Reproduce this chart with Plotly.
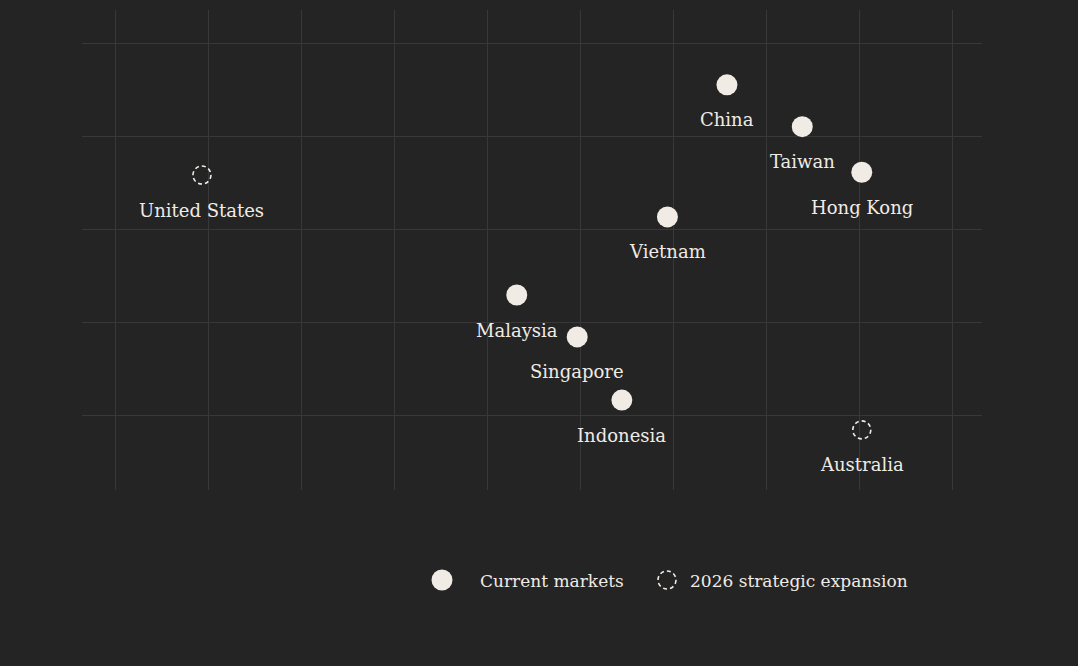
import plotly.graph_objects as go

# market positions (grid units)
current_names = ["China", "Taiwan", "Hong Kong", "Vietnam", "Malaysia", "Singapore", "Indonesia"]
current_x = [65.8, 73.9, 80.3, 59.4, 43.2, 49.7, 54.5]
current_y = [35.5, 31.0, 26.1, 21.3, 12.9, 8.4, 1.6]

expansion_names = ["United States", "Australia"]
expansion_x = [9.35, 80.3]
expansion_y = [25.8, -1.6]

legend_labels = ["Current markets", "2026 strategic expansion"]

bg = "#242424"
ink = "#f0ebe5"
grid = "#383838"
font_family = "Georgia, 'DejaVu Serif', serif"

fig = go.Figure()

fig.add_trace(go.Scatter(
    x=current_x, y=current_y, mode="markers", name=legend_labels[0],
    text=current_names, hoverinfo="text",
    marker=dict(size=21, color=ink, line=dict(width=0)),
))

# invisible points for the expansion markets, the dashed rings are shapes
fig.add_trace(go.Scatter(
    x=expansion_x, y=expansion_y, mode="markers", name=legend_labels[1],
    text=expansion_names, hoverinfo="text",
    marker=dict(size=20, color="rgba(0,0,0,0)"),
))

for xx, yy in zip(expansion_x, expansion_y):
    fig.add_shape(type="circle", xref="x", yref="y",
                  xsizemode="pixel", ysizemode="pixel",
                  xanchor=xx, yanchor=yy, x0=-9, x1=9, y0=-9, y1=9,
                  line=dict(color=ink, width=1.6, dash="4px,3px"))

# labels under every point
for nm, xx, yy in zip(current_names + expansion_names, current_x + expansion_x,
                      current_y + expansion_y):
    fig.add_annotation(x=xx, y=yy, text=nm, showarrow=False, yshift=-35,
                       font=dict(family=font_family, size=18, color=ink))

# custom legend
fig.add_shape(type="circle", xref="paper", yref="paper",
              xsizemode="pixel", ysizemode="pixel",
              xanchor=0.4, yanchor=-0.1875, x0=-10.5, x1=10.5, y0=-10.5, y1=10.5,
              fillcolor=ink, line=dict(width=0))
fig.add_shape(type="circle", xref="paper", yref="paper",
              xsizemode="pixel", ysizemode="pixel",
              xanchor=0.65, yanchor=-0.1875, x0=-9, x1=9, y0=-9, y1=9,
              line=dict(color=ink, width=1.6, dash="4px,3px"))
fig.add_annotation(xref="paper", yref="paper", x=0.44, y=-0.1896,
                   xanchor="left", yanchor="middle",
                   text=legend_labels[0], showarrow=False,
                   font=dict(family=font_family, size=17, color=ink))
fig.add_annotation(xref="paper", yref="paper", x=0.6733, y=-0.1896,
                   xanchor="left", yanchor="middle",
                   text=legend_labels[1], showarrow=False,
                   font=dict(family=font_family, size=17, color=ink))

fig.update_xaxes(range=[-3.548, 93.226], dtick=10, tick0=0, showticklabels=False,
                 showgrid=True, gridcolor=grid, gridwidth=1, zeroline=False,
                 showline=False, fixedrange=True)
fig.update_yaxes(range=[-8.065, 43.548], dtick=10, tick0=0, showticklabels=False,
                 showgrid=True, gridcolor=grid, gridwidth=1, zeroline=False,
                 showline=False, fixedrange=True)

fig.update_layout(
    width=1078, height=666,
    margin=dict(l=82, r=96, t=10, b=176),
    paper_bgcolor=bg, plot_bgcolor=bg,
    showlegend=False,
    font=dict(family=font_family, color=ink),
)

fig.write_html("out.html", config={"displayModeBar": False},
               post_script="document.body.style.margin='0';")
